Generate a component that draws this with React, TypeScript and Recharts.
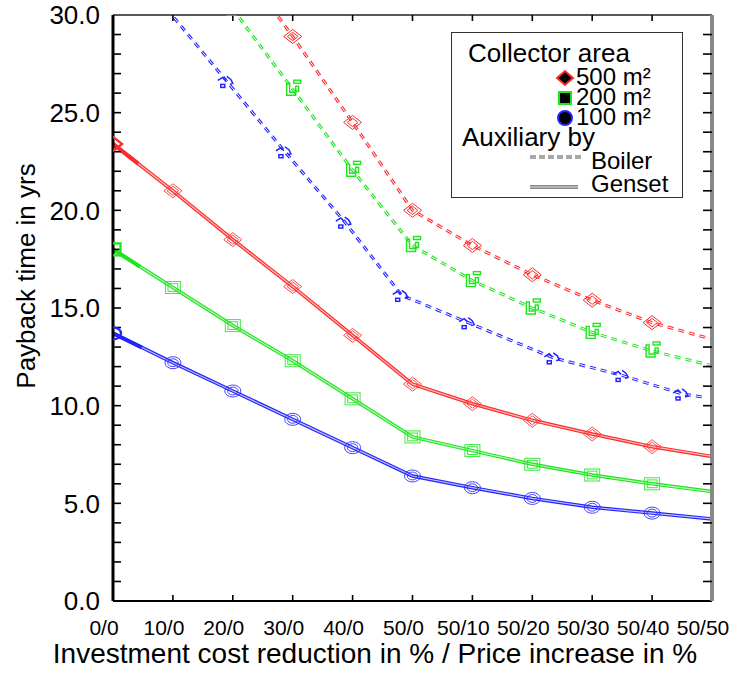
import React from 'react'
import { LineChart, Line, XAxis, YAxis, Legend, Label } from 'recharts'

const categories = ['0/0', '10/0', '20/0', '30/0', '40/0', '50/0', '50/10', '50/20', '50/30', '50/40', '50/50']
const xTicks = [0, 1, 2, 3, 4, 5, 6, 7, 8, 9, 10]
const yTicks = [0, 5, 10, 15, 20, 25, 30]
const yMinorTicks = [1, 2, 3, 4, 5, 6, 7, 8, 9, 10, 11, 12, 13, 14, 15, 16, 17, 18, 19, 20, 21, 22, 23, 24, 25, 26, 27, 28, 29]
const xInnerTicks = [1, 2, 3, 4, 5, 6, 7, 8, 9]

// Genset (solid)
const genset500 = [23.4, 21.0, 18.5, 16.1, 13.6, 11.1, 10.1, 9.25, 8.55, 7.9, 7.4]
const genset200 = [18.0, 16.05, 14.1, 12.3, 10.35, 8.4, 7.7, 7.0, 6.45, 6.0, 5.6]
const genset100 = [13.7, 12.2, 10.75, 9.3, 7.85, 6.4, 5.8, 5.25, 4.8, 4.5, 4.2]

// Boiler (dashed)
const boiler500 = [null, null, 33.1, 28.9, 24.5, 20.0, 18.2, 16.7, 15.4, 14.25, 13.4]
const boiler200 = [null, null, 30.3, 26.2, 22.05, 18.2, 16.4, 15.0, 13.75, 12.8, 12.05]
// the 100 m2 boiler curve is plotted off the category grid
const boiler100Pos = [0.9, 1.9, 2.87, 3.87, 4.82, 5.93, 7.35, 8.5, 9.5, 9.83]
const boiler100 = [30.3, 26.6, 23.0, 19.4, 15.65, 14.25, 12.45, 11.55, 10.6, 10.45]

const RED = '#ff2a2a'
const GREEN = '#1ee61e'
const BLUE = '#2424ff'
const font = '"Liberation Sans", Arial, sans-serif'

const rows = categories.map((name, i) => ({
  x: i,
  name,
  g500: genset500[i],
  g200: genset200[i],
  g100: genset100[i],
  b500: boiler500[i],
  b200: boiler200[i],
}))

const blueBoilerRows = boiler100Pos.map((x, i) => ({ x, b100: boiler100[i] }))

// frame tick anchors, drawn as dots of invisible series
const leftTickRows = yMinorTicks.map((v) => ({ x: 0, t: v }))
const rightTickRows = yMinorTicks.map((v) => ({ x: 10, t: v }))
const bottomTickRows = xInnerTicks.map((v) => ({ x: v, t: 0 }))
const topTickRows = xInnerTicks.map((v) => ({ x: v, t: 30 }))

const tickMark = (dx: number, dy: number) => (p: any) => {
  const { cx, cy, index } = p
  if (cx == null || cy == null) return <g key={`k${index}`} />
  return (
    <path key={`k${index}`} d={`M${cx},${cy} L${cx + dx},${cy + dy}`} fill="none" stroke="#000" strokeWidth={1.6} />
  )
}

const diamondPath = (cx: number, cy: number, hw: number, hh: number) =>
  `M${cx - hw},${cy} L${cx},${cy - hh} L${cx + hw},${cy} L${cx},${cy + hh} Z`

const shapeEl = (shape: string, cx: number, cy: number, scale: number, color: string, sw: number) => {
  if (shape === 'diamond')
    return <path d={diamondPath(cx, cy, 9 * scale, 7 * scale)} fill="none" stroke={color} strokeWidth={sw} />
  if (shape === 'square')
    return <rect x={cx - 7.5 * scale} y={cy - 6 * scale} width={15 * scale} height={12 * scale} fill="none" stroke={color} strokeWidth={sw} />
  return <ellipse cx={cx} cy={cy} rx={8 * scale} ry={6 * scale} fill="none" stroke={color} strokeWidth={sw} />
}

const gensetDot = (shape: string, color: string) => (p: any) => {
  const { cx, cy, index } = p
  if (cx == null || cy == null || index >= 10) return <g key={`n${index}`} />
  if (index === 0) {
    return <g key={`d${index}`}>{shapeEl(shape, cx, cy, 1, color, 2.4)}</g>
  }
  return (
    <g key={`d${index}`} opacity={0.85}>
      {shapeEl(shape, cx, cy, 1, color, 1)}
      {shapeEl(shape, cx, cy, 0.65, color, 1)}
    </g>
  )
}

const redBoilerDot = (p: any) => {
  const { cx, cy, index } = p
  if (cx == null || cy == null || index >= 10) return <g key={`n${index}`} />
  return (
    <g key={`d${index}`}>
      {shapeEl('diamond', cx, cy, 1, RED, 1)}
      {shapeEl('diamond', cx, cy, 0.6, RED, 1)}
    </g>
  )
}

const greenBoilerDot = (p: any) => {
  const { cx, cy, index } = p
  if (cx == null || cy == null || index >= 10) return <g key={`n${index}`} />
  return (
    <g key={`d${index}`} fill="none" stroke={GREEN} strokeWidth={1.4}>
      <path d={`M${cx - 6},${cy - 6} h3 v9 h6 v3 h-9 z`} />
      <rect x={cx + 1} y={cy - 9} width={7} height={3} />
      <rect x={cx + 3} y={cy - 3} width={3} height={5} />
    </g>
  )
}

const blueBoilerDot = (p: any) => {
  const { cx, cy, index } = p
  if (cx == null || cy == null || index === 0 || index >= 9) return <g key={`n${index}`} />
  return (
    <g key={`d${index}`} fill="none" stroke={BLUE} strokeWidth={1.5}>
      <path d={`M${cx - 9},${cy - 1} l5,-3 l3,3`} />
      <path d={`M${cx},${cy - 5} l4,3 l2,4 l-3,1`} />
      <rect x={cx - 6} y={cy + 3} width={4} height={3} />
    </g>
  )
}

const BottomTick = (p: any) => {
  const { x, y, payload, index } = p
  return (
    <text key={`b${index}`} x={x - 9} y={y} dy="0.71em" textAnchor="middle" fontSize={21} fill="#000" fontFamily={font}>
      {categories[payload.value]}
    </text>
  )
}

const LegendBox = () => (
  <svg width={233} height={167} style={{ display: 'block' }}>
    <rect x={0.5} y={0.5} width={231} height={165} fill="#fff" stroke="#333" />
    <g fill="#000" fontFamily={font}>
      <text x={17} y={30} fontSize={26}>Collector area</text>
      <path d={diamondPath(114, 46, 8, 7)} fill="#000" stroke={RED} strokeWidth={2} />
      <text x={125} y={53} fontSize={24}>500 m²</text>
      <rect x={108} y={60} width={12} height={12} fill="#000" stroke={GREEN} strokeWidth={2} />
      <text x={125} y={73} fontSize={24}>200 m²</text>
      <circle cx={114} cy={86} r={7} fill="#000" stroke={BLUE} strokeWidth={2} />
      <text x={125} y={93} fontSize={24}>100 m²</text>
      <text x={11} y={114} fontSize={26}>Auxiliary by</text>
      <line x1={79} y1={125} x2={132} y2={125} stroke="#555" strokeWidth={3} strokeDasharray="6 3" />
      <line x1={79} y1={125} x2={132} y2={125} stroke="#fff" strokeWidth={1} strokeDasharray="6 3" />
      <text x={140} y={137} fontSize={24}>Boiler</text>
      <line x1={79} y1={155} x2={127} y2={155} stroke="#666" strokeWidth={3.5} />
      <line x1={79} y1={155} x2={127} y2={155} stroke="#fff" strokeWidth={1.2} />
      <text x={140} y={160} fontSize={24}>Genset</text>
    </g>
  </svg>
)

const gensets = [
  { key: 'g500', color: RED, shape: 'diamond' },
  { key: 'g200', color: GREEN, shape: 'square' },
  { key: 'g100', color: BLUE, shape: 'circle' },
]

export default function App() {
  return (
    <div style={{ position: 'absolute', left: 0, top: 0, width: 734, height: 673, background: '#fff' }}>
      <LineChart
        width={734}
        height={673}
        data={rows}
        margin={{ top: 0, right: 0, bottom: 0, left: 0 }}
        style={{ fontFamily: font }}
      >
        <XAxis
          xAxisId="x"
          type="number"
          dataKey="x"
          domain={[0, 10]}
          ticks={xTicks}
          interval={0}
          allowDataOverflow
          height={72}
          tickLine={false}
          tickSize={6}
          tickMargin={13}
          axisLine={{ stroke: '#000', strokeWidth: 2 }}
          tick={BottomTick}
        >
          <Label
            content={() => (
              <text x={375} y={663} textAnchor="middle" fontSize={28} fill="#000" fontFamily={font}>
                Investment cost reduction in % / Price increase in %
              </text>
            )}
          />
        </XAxis>
        <XAxis
          xAxisId="xt"
          type="number"
          orientation="top"
          domain={[0, 10]}
          allowDataOverflow
          height={15}
          tick={false}
          tickLine={false}
          axisLine={{ stroke: '#222', strokeWidth: 1.5 }}
        />
        <YAxis
          yAxisId="y"
          domain={[0, 30]}
          ticks={yTicks}
          interval={0}
          allowDataOverflow
          width={113}
          tickFormatter={(v: number) => v.toFixed(1)}
          tickLine={false}
          tickSize={6}
          tickMargin={7}
          axisLine={{ stroke: '#000', strokeWidth: 3 }}
          tick={{ fontSize: 26, fill: '#000' }}
        >
          <Label
            content={() => (
              <text
                x={26}
                y={276}
                transform="rotate(-90 26 276)"
                textAnchor="middle"
                dominantBaseline="central"
                fontSize={26}
                fill="#000"
                fontFamily={font}
              >
                Payback time in yrs
              </text>
            )}
          />
        </YAxis>
        <YAxis
          yAxisId="yr"
          orientation="right"
          domain={[0, 30]}
          allowDataOverflow
          width={22}
          tick={false}
          tickLine={false}
          axisLine={{ stroke: '#888', strokeWidth: 4 }}
        />

        {/* inward frame ticks */}
        <Line xAxisId="x" yAxisId="y" data={leftTickRows} dataKey="t" stroke="#fff" strokeOpacity={0} dot={tickMark(8, 0)} activeDot={false} legendType="none" isAnimationActive={false} />
        <Line xAxisId="x" yAxisId="y" data={rightTickRows} dataKey="t" stroke="#fff" strokeOpacity={0} dot={tickMark(-9, 0)} activeDot={false} legendType="none" isAnimationActive={false} />
        <Line xAxisId="x" yAxisId="y" data={bottomTickRows} dataKey="t" stroke="#fff" strokeOpacity={0} dot={tickMark(0, -6)} activeDot={false} legendType="none" isAnimationActive={false} />
        <Line xAxisId="x" yAxisId="y" data={topTickRows} dataKey="t" stroke="#fff" strokeOpacity={0} dot={tickMark(0, 6)} activeDot={false} legendType="none" isAnimationActive={false} />

        {/* Boiler, dashed */}
        <Line xAxisId="x" yAxisId="y" dataKey="b500" stroke={RED} strokeWidth={3} strokeDasharray="6 5" dot={false} isAnimationActive={false} />
        <Line xAxisId="x" yAxisId="y" dataKey="b500" stroke="#fff" strokeWidth={1} strokeDasharray="6 5" dot={redBoilerDot} isAnimationActive={false} />
        <Line xAxisId="x" yAxisId="y" dataKey="b200" stroke={GREEN} strokeWidth={3} strokeDasharray="6 5" dot={false} isAnimationActive={false} />
        <Line xAxisId="x" yAxisId="y" dataKey="b200" stroke="#fff" strokeWidth={1} strokeDasharray="6 5" dot={greenBoilerDot} isAnimationActive={false} />
        <Line xAxisId="x" yAxisId="y" data={blueBoilerRows} dataKey="b100" stroke={BLUE} strokeWidth={3} strokeDasharray="6 5" dot={false} isAnimationActive={false} />
        <Line xAxisId="x" yAxisId="y" data={blueBoilerRows} dataKey="b100" stroke="#fff" strokeWidth={1} strokeDasharray="6 5" dot={blueBoilerDot} isAnimationActive={false} />

        {/* Genset, solid double line with a heavy first stretch */}
        {gensets.map((g) => (
          <Line key={`${g.key}a`} xAxisId="x" yAxisId="y" dataKey={g.key} stroke={g.color} strokeWidth={3.5} dot={false} isAnimationActive={false} />
        ))}
        {gensets.map((g) => (
          <Line key={`${g.key}b`} xAxisId="x" yAxisId="y" dataKey={g.key} stroke="#fff" strokeWidth={1.2} strokeOpacity={0.7} dot={false} isAnimationActive={false} />
        ))}
        {gensets.map((g) => (
          <Line key={`${g.key}c`} xAxisId="x" yAxisId="y" dataKey={g.key} stroke={g.color} strokeWidth={4} strokeDasharray="32 3000" dot={gensetDot(g.shape, g.color)} isAnimationActive={false} />
        ))}

        <Legend
          layout="vertical"
          align="center"
          verticalAlign="middle"
          wrapperStyle={{ left: 451, top: 32, width: 233, height: 167 }}
          content={() => <LegendBox />}
        />
      </LineChart>
    </div>
  )
}
